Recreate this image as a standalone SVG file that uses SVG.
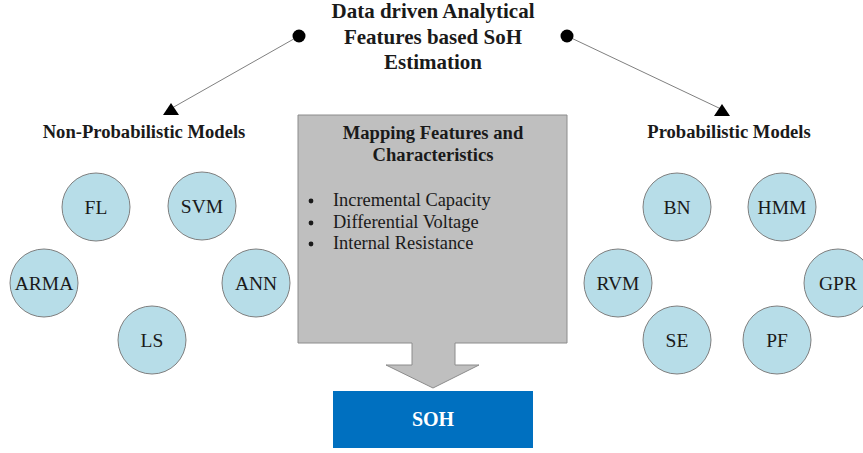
<svg xmlns="http://www.w3.org/2000/svg" width="863" height="453" viewBox="0 0 863 453">
<style>
text{font-family:"Liberation Serif","Times New Roman",serif;fill:#1a1a1a}
.title{font-size:21px;font-weight:bold;text-anchor:middle}
.head{font-size:18.6px;font-weight:bold;text-anchor:middle}
.circ{fill:#b7dde8;stroke:#7f7f7f;stroke-width:1}
.cl{font-size:19.5px;text-anchor:middle}
.bl{font-size:18.4px}
.conn{stroke:#808080;stroke-width:1;fill:none}
</style>
<rect width="863" height="453" fill="#fff"/>
<g id="title">
<text class="title" x="433" y="18">Data driven Analytical</text>
<text class="title" x="433" y="44">Features based SoH</text>
<text class="title" x="433" y="69">Estimation</text>
</g>
<g id="connectors">
<line class="conn" x1="299" y1="36" x2="172" y2="108"/>
<circle cx="299" cy="36" r="6.5" fill="#000"/>
<polygon points="171,103 163,115 179,115" fill="#000"/>
<line class="conn" x1="567" y1="36" x2="721" y2="109"/>
<circle cx="567" cy="36" r="6.5" fill="#000"/>
<polygon points="722,104 714,116 730,116" fill="#000"/>
</g>
<g id="non-probabilistic">
<text class="head" x="144" y="138">Non-Probabilistic Models</text>
<g id="FL"><circle class="circ" cx="96" cy="207" r="34"/><text class="cl" x="96" y="214">FL</text></g>
<g id="SVM"><circle class="circ" cx="202" cy="206" r="34"/><text class="cl" x="202" y="213">SVM</text></g>
<g id="ARMA"><circle class="circ" cx="44" cy="283" r="34"/><text class="cl" x="44" y="290">ARMA</text></g>
<g id="ANN"><circle class="circ" cx="256" cy="283" r="34"/><text class="cl" x="256" y="290">ANN</text></g>
<g id="LS"><circle class="circ" cx="152" cy="340" r="34"/><text class="cl" x="152" y="347">LS</text></g>
</g>
<g id="probabilistic">
<text class="head" x="729" y="138">Probabilistic Models</text>
<g id="BN"><circle class="circ" cx="677" cy="207" r="34"/><text class="cl" x="677" y="214">BN</text></g>
<g id="HMM"><circle class="circ" cx="782" cy="207" r="34"/><text class="cl" x="782" y="214">HMM</text></g>
<g id="RVM"><circle class="circ" cx="618" cy="283" r="34"/><text class="cl" x="618" y="290">RVM</text></g>
<g id="GPR"><circle class="circ" cx="838" cy="283" r="34"/><text class="cl" x="838" y="290">GPR</text></g>
<g id="SE"><circle class="circ" cx="677" cy="340" r="34"/><text class="cl" x="677" y="347">SE</text></g>
<g id="PF"><circle class="circ" cx="777" cy="340" r="34"/><text class="cl" x="777" y="347">PF</text></g>
</g>
<g id="mapping">
<polygon points="298,115 567,115 567,343 455,343 455,365 479,365 433,388 386,365 412,365 412,343 298,343" fill="#bfbfbf" stroke="#8c8c8c" stroke-width="1"/>
<text class="head" x="433" y="139">Mapping Features and</text>
<text class="head" x="433" y="161">Characteristics</text>
<circle cx="311" cy="201" r="2.4" fill="#1a1a1a"/>
<circle cx="311" cy="223" r="2.4" fill="#1a1a1a"/>
<circle cx="311" cy="244" r="2.4" fill="#1a1a1a"/>
<text class="bl" x="333" y="206">Incremental Capacity</text>
<text class="bl" x="333" y="228">Differential Voltage</text>
<text class="bl" x="333" y="249">Internal Resistance</text>
</g>
<g id="SOH">
<rect x="333" y="391" width="200" height="57" fill="#0070c0"/>
<text x="433" y="426" font-size="20" font-weight="bold" text-anchor="middle" style="fill:#fff">SOH</text>
</g>
</svg>
